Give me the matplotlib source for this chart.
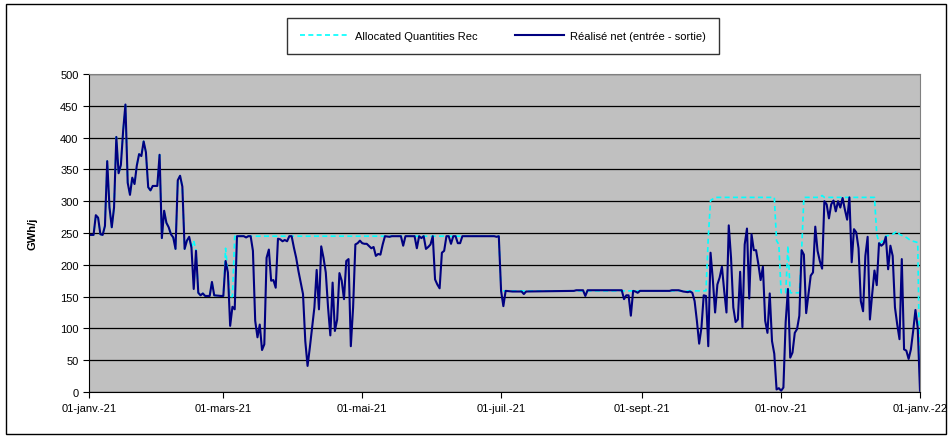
import pandas as pd
import matplotlib.pyplot as plt
from matplotlib.patches import Rectangle

plt.rcParams["font.family"] = ["Liberation Sans", "DejaVu Sans"]

# day offsets from 01-janv.-21 and values (GWh/j)
net_day = [0, 2, 3, 4, 5, 6, 7, 8, 9, 10, 11, 12, 13, 14, 15, 16, 17, 18, 19, 20,
           21, 22, 23, 24, 25, 26, 27, 28, 29, 30, 31, 32, 33, 34, 35, 36, 37, 38, 39, 40,
           41, 42, 43, 44, 45, 46, 47, 48, 49, 50, 51, 53, 54, 55, 58, 59, 60, 61, 62, 63,
           64, 65, 68, 69, 70, 71, 72, 73, 74, 75, 76, 77, 78, 79, 80, 81, 82, 83, 84, 85,
           86, 87, 88, 89, 90, 91, 92, 94, 95, 96, 97, 98, 99, 100, 101, 102, 103, 104, 105, 106,
           107, 108, 109, 110, 111, 112, 113, 114, 115, 116, 117, 118, 119, 120, 121, 122, 124, 125, 126, 127,
           128, 129, 130, 132, 133, 137, 138, 139, 143, 144, 145, 146, 147, 148, 149, 150, 151, 152, 153, 154,
           155, 156, 157, 158, 159, 160, 161, 162, 163, 164, 178, 179, 180, 181, 182, 183, 186, 190, 191, 192,
           213, 214, 217, 218, 219, 234, 235, 236, 237, 238, 239, 240, 241, 242, 255, 256, 259, 261, 263, 264,
           265, 266, 267, 268, 269, 270, 271, 272, 273, 274, 275, 276, 277, 278, 279, 280, 281, 282, 283, 284,
           285, 286, 287, 288, 289, 290, 291, 292, 293, 294, 295, 296, 297, 298, 299, 300, 301, 302, 303, 304,
           305, 306, 307, 308, 309, 310, 311, 312, 313, 314, 315, 316, 317, 318, 319, 320, 321, 322, 323, 324,
           325, 326, 327, 328, 329, 330, 331, 332, 333, 334, 335, 336, 337, 338, 339, 340, 341, 342, 343, 344,
           345, 346, 347, 348, 349, 350, 351, 352, 353, 354, 355, 356, 357, 358, 359, 360, 361, 362, 363, 364,
           365]
net_val = [247, 247, 278, 274, 248, 247, 261, 363, 290, 259, 290, 401, 344, 357, 411, 452, 329, 310, 337, 327,
           356, 374, 371, 394, 377, 322, 317, 324, 324, 324, 373, 242, 285, 266, 259, 248, 243, 225, 333, 340,
           323, 225, 238, 244, 227, 162, 222, 156, 152, 155, 151, 151, 173, 152, 151, 151, 206, 188, 104, 134,
           130, 245, 245, 243, 245, 245, 222, 112, 86, 106, 66, 75, 211, 224, 175, 176, 164, 241, 240, 237,
           239, 237, 245, 245, 227, 211, 190, 154, 80, 41, 70, 101, 133, 192, 130, 229, 211, 188, 133, 89,
           172, 96, 114, 187, 175, 146, 206, 209, 72, 133, 232, 234, 238, 234, 233, 233, 226, 228, 214, 217,
           216, 232, 245, 244, 245, 245, 230, 245, 245, 226, 245, 242, 245, 225, 228, 232, 245, 177, 169, 163,
           219, 222, 245, 245, 233, 245, 245, 234, 234, 245, 245, 244, 245, 159, 135, 159, 158, 158, 154, 158,
           159, 160, 160, 151, 160, 160, 146, 152, 152, 120, 159, 158, 156, 159, 159, 160, 160, 158, 157, 158,
           156, 143, 112, 76, 101, 152, 151, 72, 219, 177, 125, 169, 180, 197, 159, 125, 262, 211, 133, 110,
           114, 189, 102, 232, 257, 147, 248, 223, 223, 201, 176, 197, 112, 93, 155, 80, 60, 4, 6, 2,
           7, 110, 162, 54, 62, 93, 99, 120, 223, 216, 124, 154, 183, 188, 260, 222, 206, 194, 300, 295,
           273, 295, 301, 284, 300, 290, 305, 287, 271, 306, 204, 256, 251, 226, 143, 127, 214, 244, 114, 154,
           191, 168, 234, 230, 233, 244, 193, 230, 214, 133, 106, 83, 209, 67, 65, 52, 67, 96, 129, 101,
           2]

# allocated quantities: same as the realised flow in Jan.-Feb., then its own steps
rec_day = [0, 2, 3, 4, 5, 6, 7, 8, 9, 10, 11, 12, 13, 14, 15, 16, 17, 18, 19, 20,
           21, 22, 23, 24, 25, 26, 27, 28, 29, 30, 31, 32, 33, 34, 35, 36, 37, 38, 39, 40,
           41, 42, 43, 44, 45, 46, 47, 48, 49, 50, 51, 53, 54, 55, 58, 59, 60, 62, 63, 64,
           180, 181, 271, 272, 273, 275, 301, 302, 303, 304, 306, 307, 308, 312, 313, 314, 321, 322, 323, 345,
           346, 347, 348, 350, 353, 355, 356, 359, 361, 364, 365]
rec_val = [247, 247, 278, 274, 248, 247, 261, 363, 290, 259, 290, 401, 344, 357, 411, 452, 329, 310, 337, 327,
           356, 374, 371, 394, 377, 322, 317, 324, 324, 324, 373, 242, 285, 266, 259, 248, 243, 225, 333, 340,
           323, 225, 238, 244, 227, 238, 222, 156, 152, 155, 151, 151, 173, 152, 151, 151, 226, 150, 150, 245,
           245, 159, 159, 243, 301, 306, 306, 238, 232, 156, 156, 230, 156, 156, 222, 306, 306, 309, 306, 306,
           248, 235, 235, 245, 248, 253, 248, 243, 238, 235, 2]

tick_day = [0, 59, 120, 181, 243, 304, 365]
tick_lab = ["01-janv.-21", "01-mars-21", "01-mai-21", "01-juil.-21",
            "01-sept.-21", "01-nov.-21", "01-janv.-22"]

start = pd.Timestamp("2021-01-01")
net_x = start + pd.to_timedelta(net_day, unit="D")
rec_x = start + pd.to_timedelta(rec_day, unit="D")
tick_x = start + pd.to_timedelta(tick_day, unit="D")

fig = plt.figure(figsize=(9.53, 4.39), dpi=100)
W, H = 953, 439
ax = fig.add_axes([89 / W, 1 - 393 / H, (920 - 89) / W, (393 - 75) / H])
ax.set_facecolor("#c0c0c0")

fig.patches.append(Rectangle((6 / W, 4 / H), 940 / W, 430 / H, transform=fig.transFigure,
                             fill=False, edgecolor="black", linewidth=1))

ax.plot(rec_x, rec_val, color="#00ffff", linestyle=(0, (3, 2)), linewidth=1.2,
        label="Allocated Quantities Rec")
ax.plot(net_x, net_val, color="#000080", linewidth=1.5,
        label="Réalisé net (entrée - sortie)")

ax.set_xlim(start, start + pd.Timedelta(days=365))
ax.set_ylim(0, 500)
ax.set_yticks(range(0, 501, 50))
ax.set_xticks(tick_x)
ax.set_xticklabels(tick_lab)
ax.grid(axis="y", color="black", linewidth=0.9)
ax.set_axisbelow(True)
ax.tick_params(labelsize=8, length=4, direction="out", color="black")
ax.tick_params(axis="x", pad=4)
for side in ["top", "right"]:
    ax.spines[side].set_color("#808080")
for side in ["left", "bottom"]:
    ax.spines[side].set_color("black")
ax.set_ylabel("GWh/j", fontsize=8, fontweight="bold", labelpad=16)

leg = ax.legend(loc="center", bbox_to_anchor=(503 / W, 1 - 37 / H), bbox_transform=fig.transFigure,
                ncol=2, fontsize=8, frameon=True, fancybox=False, edgecolor="black",
                handlelength=4.4, columnspacing=3.4, borderpad=1.2, handletextpad=0.5)
leg.get_frame().set_linewidth(1)

fig.savefig("out.png", dpi=100)
